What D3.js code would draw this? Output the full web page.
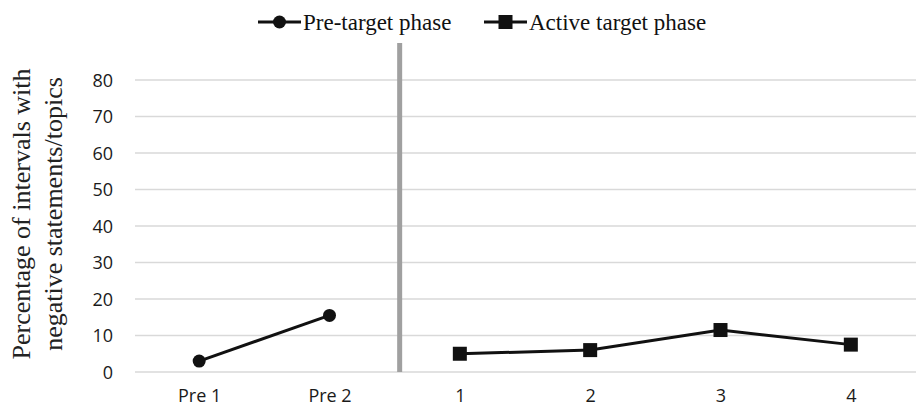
<!DOCTYPE html>
<html><head><meta charset="utf-8">
<script src="https://cdn.jsdelivr.net/npm/d3@7"></script>
<style>body{margin:0;background:#fff}svg{display:block}</style>
</head><body>
<svg id="c" width="917" height="408"></svg>
<script>
const categories = ["Pre 1","Pre 2","1","2","3","4"];
const preLabels = ["Pre 1","Pre 2"];
const preValues = [3, 15.5];
const activeLabels = ["1","2","3","4"];
const activeValues = [5, 6, 11.5, 7.5];
const yTicks = [0,10,20,30,40,50,60,70,80];
const seriesNames = ["Pre-target phase","Active target phase"];
const yTitle = ["Percentage of intervals with","negative statements/topics"];

const svg = d3.select("#c");
const pLeft = 134, pRight = 916, pTop = 80, pBottom = 372;
const x = d3.scalePoint().domain(categories).range([pLeft, pRight]).padding(0.5);
const y = d3.scaleLinear().domain([0, 80]).range([pBottom, pTop]);

// gridlines
svg.append("g").selectAll("line").data(yTicks).join("line")
  .attr("x1", pLeft+1).attr("x2", pRight)
  .attr("y1", d => y(d)).attr("y2", d => y(d))
  .attr("stroke", "#d9d9d9").attr("stroke-width", 1.5);

// y tick labels
const yAxis = d3.axisLeft(y).tickValues(yTicks).tickSize(0).tickPadding(0);
const gy = svg.append("g").attr("transform", `translate(113,0)`).call(yAxis);
gy.select(".domain").remove();
gy.selectAll("text").attr("font-family", "'Open Sans', sans-serif").attr("font-size", 18).attr("fill", "#1a1a1a").attr("dy", "0.36em");

// x tick labels
const xAxis = d3.axisBottom(x).tickSize(0).tickPadding(0);
const gx = svg.append("g").attr("transform", `translate(0,${pBottom})`).call(xAxis);
gx.select(".domain").remove();
gx.selectAll("text").attr("font-family", "'Open Sans', sans-serif").attr("font-size", 18).attr("fill", "#1a1a1a").attr("y", 30).attr("dy", 0);

// phase divider
const divX = (x("Pre 2") + x("1"))/2 + 5;
svg.append("line").attr("x1", divX).attr("x2", divX).attr("y1", 43).attr("y2", pBottom)
  .attr("stroke", "#a0a0a0").attr("stroke-width", 5);

const line = d3.line().x(d => x(d[0])).y(d => y(d[1]));
const preData = preLabels.map((c,i) => [c, preValues[i]]);
const actData = activeLabels.map((c,i) => [c, activeValues[i]]);

svg.append("path").attr("d", line(preData)).attr("fill","none").attr("stroke","#111").attr("stroke-width",3);
svg.append("path").attr("d", line(actData)).attr("fill","none").attr("stroke","#111").attr("stroke-width",3);
svg.append("g").selectAll("circle").data(preData).join("circle")
  .attr("cx", d => x(d[0])).attr("cy", d => y(d[1])).attr("r", 6.5).attr("fill", "#111");
svg.append("g").selectAll("rect").data(actData).join("rect")
  .attr("x", d => x(d[0]) - 7).attr("y", d => y(d[1]) - 7).attr("width", 14).attr("height", 14).attr("fill", "#111");

// y title
const yt = svg.append("text").attr("transform", `translate(0,214) rotate(-90)`)
  .attr("font-family", "'Liberation Serif', 'Times New Roman', serif").attr("font-size", 26).attr("fill", "#222")
  .attr("text-anchor", "middle");
yt.append("tspan").attr("x", 0).attr("y", 30).text(yTitle[0]);
yt.append("tspan").attr("x", 0).attr("y", 62).text(yTitle[1]);

// legend
const lg = svg.append("g").attr("font-family", "'Liberation Serif', 'Times New Roman', serif").attr("font-size", 23).attr("fill", "#111");
const legendItems = [{name: seriesNames[0], x0: 258, shape: "circle"}, {name: seriesNames[1], x0: 484, shape: "rect"}];
legendItems.forEach(it => {
  const g = lg.append("g").attr("transform", `translate(${it.x0},22)`);
  g.append("line").attr("x1", 0).attr("x2", 43).attr("stroke", "#111").attr("stroke-width", 3);
  if (it.shape === "circle") g.append("circle").attr("cx", 21.5).attr("r", 6.5).attr("fill", "#111");
  else g.append("rect").attr("x", 14.5).attr("y", -7).attr("width", 14).attr("height", 14).attr("fill", "#111");
  g.append("text").attr("x", 45).attr("dy", "0.33em").text(it.name);
});
</script>
</body></html>
